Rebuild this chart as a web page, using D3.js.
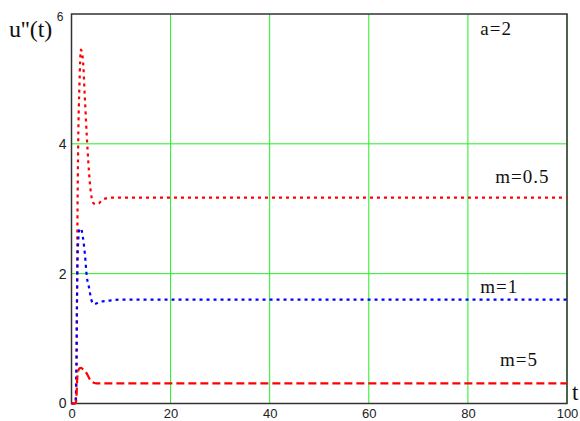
<!DOCTYPE html>
<html>
<head>
<meta charset="utf-8">
<script src="https://cdn.jsdelivr.net/npm/d3@7"></script>
<style>
  body { margin: 0; background: #fff; }
  svg { display: block; }
</style>
</head>
<body>
<script>
// size of the page
var w = 580;
var h = 421;

// time points shared by the three curves
var tValues = [0, 0.5, 0.8, 1.0, 1.1, 1.2, 1.35, 1.6, 1.9, 2.3, 2.7, 3.1, 3.5, 4.0, 4.5, 5.0, 5.5, 6.0, 7.0, 8.0, 10, 20, 40, 60, 80, 100];

// u''(t) for m=0.5, m=1, m=5 (a=2)
var m05Values = [0, 0, 0, 0.4, 1.5, 2.8, 4.0, 4.9, 5.45, 5.3, 4.7, 4.1, 3.6, 3.2, 3.08, 3.07, 3.08, 3.12, 3.16, 3.17, 3.17, 3.17, 3.17, 3.17, 3.17, 3.17];
var m1Values = [0, 0, 0, 0.6, 1.5, 2.1, 2.5, 2.68, 2.7, 2.56, 2.3, 1.95, 1.8, 1.6, 1.53, 1.54, 1.56, 1.57, 1.58, 1.59, 1.6, 1.6, 1.6, 1.6, 1.6, 1.6];
var m5Values = [0, 0, 0, 0.1, 0.3, 0.42, 0.5, 0.54, 0.55, 0.53, 0.5, 0.46, 0.4, 0.34, 0.32, 0.31, 0.31, 0.31, 0.31, 0.31, 0.31, 0.31, 0.31, 0.31, 0.31, 0.31];

// tick labels
var xTicks = [0, 20, 40, 60, 80, 100];
var yTicks = [0, 2, 4, 6];
var xGrid = [20, 40, 60, 80, 100];
var yGrid = [2, 4];

// curve labels
var labels = [
    { text: "a=2", t: 82.5, v: 5.68 },
    { text: "m=0.5", t: 85.5, v: 3.39 },
    { text: "m=1", t: 82.5, v: 1.7 },
    { text: "m=5", t: 86.5, v: 0.58 }
];

var x = d3.scaleLinear().domain([0, 100]).range([71.5, 567]);
var y = d3.scaleLinear().domain([0, 6]).range([403.5, 14]);

var svg = d3.select("body").append("svg")
    .attr("width", w)
    .attr("height", h);

// green grid
svg.selectAll(".vgrid").data(xGrid).enter().append("line")
    .attr("x1", function (d) { return x(d); })
    .attr("x2", function (d) { return x(d); })
    .attr("y1", y(0))
    .attr("y2", y(6))
    .attr("stroke", "#22ee22")
    .attr("stroke-width", 1);

svg.selectAll(".hgrid").data(yGrid).enter().append("line")
    .attr("x1", x(0))
    .attr("x2", x(100))
    .attr("y1", function (d) { return y(d); })
    .attr("y2", function (d) { return y(d); })
    .attr("stroke", "#22ee22")
    .attr("stroke-width", 1);

// frame
svg.append("rect")
    .attr("x", x(0))
    .attr("y", y(6))
    .attr("width", x(100) - x(0))
    .attr("height", y(0) - y(6))
    .attr("fill", "none")
    .attr("stroke", "#333")
    .attr("stroke-width", 1.5);

// axes (labels only)
var xAxis = svg.append("g")
    .attr("transform", "translate(0," + y(0) + ")")
    .call(d3.axisBottom(x).tickValues(xTicks).tickFormat(d3.format("d")).tickSize(0).tickPadding(5));
xAxis.select(".domain").remove();
xAxis.selectAll("text")
    .style("font-family", "Liberation Sans, Arial, sans-serif")
    .style("font-size", "13px")
    .attr("fill", "#222");

var yAxis = svg.append("g")
    .attr("transform", "translate(" + x(0) + ",0)")
    .call(d3.axisLeft(y).tickValues(yTicks).tickFormat(d3.format("d")).tickSize(0).tickPadding(5));
yAxis.select(".domain").remove();
yAxis.selectAll("text")
    .style("font-family", "Liberation Sans, Arial, sans-serif")
    .style("font-size", "14px")
    .attr("fill", "#222");
// the top label sits a little lower, as a superscript of the title
yAxis.selectAll(".tick").filter(function (d) { return d === 6; })
    .select("text").attr("dy", "0.55em").attr("x", -8)
    .style("font-size", "12px");

// curves
var line = d3.line()
    .x(function (d) { return x(d[0]); })
    .y(function (d) { return y(d[1]); })
    .curve(d3.curveMonotoneX);

var series = [
    { values: m05Values, color: "#ff0000", dash: "3,4" },
    { values: m1Values, color: "#0000ff", dash: "3,4" },
    { values: m5Values, color: "#ff0000", dash: "8,4" }
];

svg.selectAll(".curve").data(series).enter().append("path")
    .attr("d", function (s) { return line(tValues.map(function (t, i) { return [t, s.values[i]]; })); })
    .attr("fill", "none")
    .attr("stroke", function (s) { return s.color; })
    .attr("stroke-width", 2.2)
    .attr("stroke-dasharray", function (s) { return s.dash; });

// curve labels
svg.selectAll(".lbl").data(labels).enter().append("text")
    .attr("x", function (d) { return x(d.t); })
    .attr("y", function (d) { return y(d.v); })
    .text(function (d) { return d.text; })
    .style("font-family", "Liberation Serif, Times New Roman, serif")
    .style("font-size", "19px")
    .style("letter-spacing", "1px")
    .attr("fill", "#111");

// axis titles
svg.append("text")
    .attr("x", 9)
    .attr("y", 37)
    .text("u''(t)")
    .style("font-family", "Liberation Serif, Times New Roman, serif")
    .style("font-size", "24px")
    .attr("fill", "#111");

svg.append("text")
    .attr("x", 572)
    .attr("y", 400)
    .text("t")
    .style("font-family", "Liberation Serif, Times New Roman, serif")
    .style("font-size", "23px")
    .attr("fill", "#111");
</script>
</body>
</html>
